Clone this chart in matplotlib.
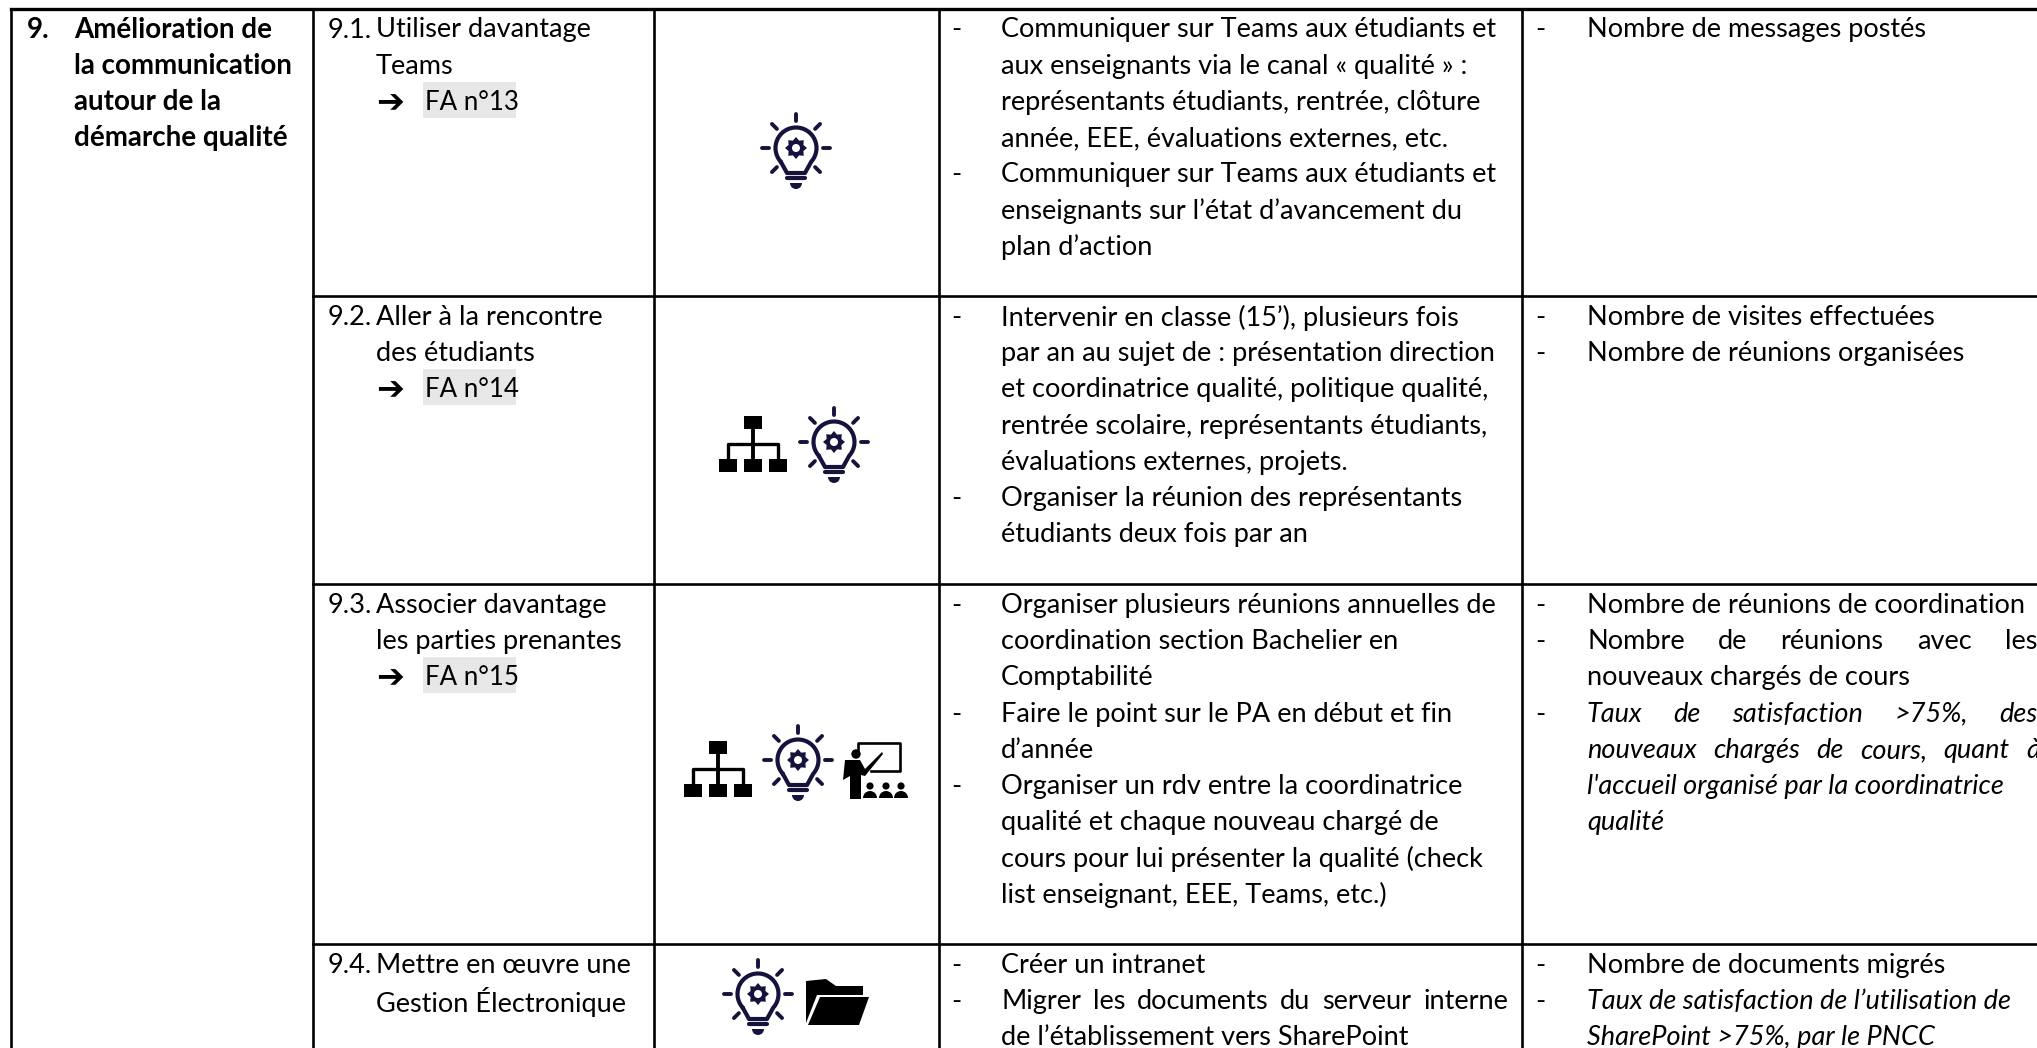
import numpy as np
import matplotlib
matplotlib.use("Agg")
import matplotlib.pyplot as plt
from matplotlib.patches import Rectangle, Circle, Polygon, Wedge

plt.rcParams['font.family'] = ['Lato', 'DejaVu Sans']

W, H = 2037, 1048
FS = 19.5
PITCH = 36.2
NAVY = "#15133c"

# table grid
col_x = [11, 313, 654, 939, 1522]
row_y = [8.5, 296, 584, 944]

# text
theme_num = "9."
theme = ["Amélioration de", "la communication", "autour de la", "démarche qualité"]
action_num = ["9.1.", "9.2.", "9.3.", "9.4."]
actions = [
    ["Utiliser davantage", "Teams"],
    ["Aller à la rencontre", "des étudiants"],
    ["Associer davantage", "les parties prenantes"],
    ["Mettre en œuvre une", "Gestion Électronique"],
]
fa = ["FA n°13", "FA n°14", "FA n°15", None]
tasks = [
    ["- Communiquer sur Teams aux étudiants et",
     "aux enseignants via le canal « qualité » :",
     "représentants étudiants, rentrée, clôture",
     "année, EEE, évaluations externes, etc.",
     "- Communiquer sur Teams aux étudiants et",
     "enseignants sur l’état d’avancement du",
     "plan d’action"],
    ["- Intervenir en classe (15’), plusieurs fois",
     "par an au sujet de : présentation direction",
     "et coordinatrice qualité, politique qualité,",
     "rentrée scolaire, représentants étudiants,",
     "évaluations externes, projets.",
     "- Organiser la réunion des représentants",
     "étudiants deux fois par an"],
    ["- Organiser plusieurs réunions annuelles de",
     "coordination section Bachelier en",
     "Comptabilité",
     "- Faire le point sur le PA en début et fin",
     "d’année",
     "- Organiser un rdv entre la coordinatrice",
     "qualité et chaque nouveau chargé de",
     "cours pour lui présenter la qualité (check",
     "list enseignant, EEE, Teams, etc.)"],
    ["- Créer un intranet",
     "- Migrer les documents du serveur interne",
     "de l’établissement vers SharePoint"],
]
indicators = [
    ["- Nombre de messages postés"],
    ["- Nombre de visites effectuées",
     "- Nombre de réunions organisées"],
    ["- Nombre de réunions de coordination",
     "- Nombre de réunions avec les",
     "nouveaux chargés de cours",
     "- Taux de satisfaction >75%, des",
     "nouveaux chargés de cours, quant à",
     "l'accueil organisé par la coordinatrice",
     "qualité"],
    ["- Nombre de documents migrés",
     "- Taux de satisfaction de l’utilisation de",
     "SharePoint >75%, par le PNCC"],
]
italic_lines = ["Taux de satisfaction >75%, des",
                "nouveaux chargés de cours, quant à",
                "l'accueil organisé par la coordinatrice",
                "qualité",
                "Taux de satisfaction de l’utilisation de",
                "SharePoint >75%, par le PNCC"]
justified_lines = {"Nombre de réunions avec les": 2037,
                   "Taux de satisfaction >75%, des": 2037,
                   "nouveaux chargés de cours, quant à": 2040,
                   "Migrer les documents du serveur interne": 1508}

# icons per row: (kind, x centre, y centre)
icons = [
    [("bulb", 796, 148)],
    [("org", 753, 444), ("bulb", 834, 442)],
    [("org", 718, 769), ("bulb", 798, 760), ("teacher", 876, 771)],
    [("bulb", 758, 994), ("folder", 838, 1002)],
]

fig = plt.figure(figsize=(W / 100, H / 100), dpi=100)
ax = fig.add_axes([0, 0, 1, 1])
ax.set_xlim(0, W)
ax.set_ylim(H, 0)
ax.axis("off")


def put(x, y, s, size=FS, **kw):
    return ax.text(x, y, s, fontsize=size, va="center_baseline", ha="left", color="black", clip_on=True, **kw)


def put_line(x, y, s, **kw):
    if s in justified_lines:
        words = s.split(" ")
        r = fig.canvas.get_renderer()
        arts = [put(x, y, w, **kw) for w in words]
        widths = [a.get_window_extent(r).width for a in arts]
        gap = (justified_lines[s] - x - sum(widths)) / (len(words) - 1)
        pos = x
        for a, wd in zip(arts, widths):
            a.set_x(pos)
            pos += wd + gap
    else:
        put(x, y, s, **kw)


def bulb(cx, cy):
    # glass
    a = np.radians(np.linspace(-222, 42, 60))
    xs = list(cx + 20.5 * np.cos(a))
    ys = list(cy + 20.5 * np.sin(a))
    xs += [cx + 9, cx - 9, xs[0]]
    ys += [cy + 25, cy + 25, ys[0]]
    ax.plot(xs, ys, color=NAVY, lw=3, solid_capstyle="round")
    # gear
    ang = np.radians(np.arange(0, 360, 22.5))
    rad = np.where(np.arange(16) % 2 == 0, 11, 8)
    ax.add_patch(Polygon(np.c_[cx + rad * np.cos(ang), cy + rad * np.sin(ang)], color=NAVY, lw=0))
    ax.add_patch(Circle((cx, cy), 4, color="white", lw=0))
    # rays
    for d in range(0, 360, 45):
        if d == 90:
            continue
        t = np.radians(d)
        r0, r1 = (27, 34)
        ax.plot([cx + r0 * np.cos(t), cx + r1 * np.cos(t)], [cy + r0 * np.sin(t), cy + r1 * np.sin(t)],
                color=NAVY, lw=2.8, solid_capstyle="round")
    # base
    ax.plot([cx - 9, cx + 9], [cy + 30, cy + 30], color=NAVY, lw=3, solid_capstyle="round")
    ax.add_patch(Wedge((cx, cy + 35), 6, 0, 180, color=NAVY, lw=0))


def org(cx, cy):
    for dx in (-25, 0, 25):
        ax.add_patch(Rectangle((cx + dx - 9, cy + 15), 18, 13, color="black", lw=0))
    ax.add_patch(Rectangle((cx - 9, cy - 28), 18, 13, color="black", lw=0))
    ax.plot([cx, cx], [cy - 15, cy + 15], color="black", lw=2.8)
    ax.plot([cx - 25, cx - 25, cx + 25, cx + 25], [cy + 15, cy, cy, cy + 15], color="black", lw=2.4)


def teacher(cx, cy):
    # board
    ax.plot([cx - 18, cx - 18, cx + 24, cx + 24, cx - 5], [cy - 19, cy - 28, cy - 28, cy, cy], color="black", lw=1.9)
    # person and pointer
    ax.add_patch(Circle((cx - 20, cy - 17), 4.7, color="black", lw=0))
    ax.add_patch(Polygon([(cx - 31, cy - 11), (cx - 16, cy - 11), (cx - 11, cy - 2), (cx + 6, cy - 19), (cx + 7, cy - 17),
                          (cx - 11, cy + 5), (cx - 15, cy + 4), (cx - 15, cy + 28), (cx - 26, cy + 28), (cx - 26, cy + 5),
                          (cx - 33, cy + 9)], color="black", lw=0))
    # audience
    for dx in (-6, 10, 25):
        ax.add_patch(Circle((cx + dx, cy + 15), 3.6, color="black", lw=0))
        ax.add_patch(Wedge((cx + dx, cy + 27), 7, 180, 360, color="black", lw=0))


def folder(cx, cy):
    ax.add_patch(Polygon([(cx - 32, cy - 21), (cx - 12, cy - 23), (cx - 2, cy - 16), (cx + 25, cy - 16), (cx + 25, cy - 7),
                          (cx - 21, cy - 7), (cx - 32, cy + 21)], color="black", lw=0))
    ax.add_patch(Polygon([(cx - 18, cy - 5), (cx + 31, cy - 5), (cx + 21, cy + 23), (cx - 30, cy + 23)], color="black", lw=0))


icon_draw = {"bulb": bulb, "org": org, "teacher": teacher, "folder": folder}

# grid lines
LW = 1.9
ax.plot([col_x[0], W], [row_y[0], row_y[0]], color="black", lw=LW + 0.5)
for y in row_y[1:]:
    ax.plot([col_x[1], W], [y, y], color="black", lw=LW)
for x in col_x:
    ax.plot([x, x], [row_y[0], H], color="black", lw=LW)

# theme column
put(27, 27, theme_num, size=20, fontweight="bold")
for i, s in enumerate(theme):
    put(74, 27 + i * PITCH, s, size=20, fontweight="bold")

for r, top in enumerate(row_y):
    y0 = top + 19
    put(328, y0, action_num[r])
    for i, s in enumerate(actions[r]):
        put(376, y0 + i * PITCH, s)
    if fa[r]:
        y = y0 + 2 * PITCH
        ax.add_patch(Rectangle((423, y - 18), 93, 36, color="#e7e7e7", lw=0, zorder=0))
        put(376, y, "\u2794", size=24, fontweight="bold")
        put(425, y, fa[r], size=18.6)
    for kind, cx, cy in icons[r]:
        icon_draw[kind](cx, cy)
    for col, x_dash, x_text in ((tasks, 951, 1001), (indicators, 1535, 1587)):
        for i, s in enumerate(col[r]):
            y = y0 + i * PITCH
            if s.startswith("- "):
                put(x_dash, y, "-")
                s = s[2:]
            kw = {"fontstyle": "italic"} if s in italic_lines else {}
            put_line(x_text, y, s, **kw)

fig.savefig("out.png", dpi=100)
